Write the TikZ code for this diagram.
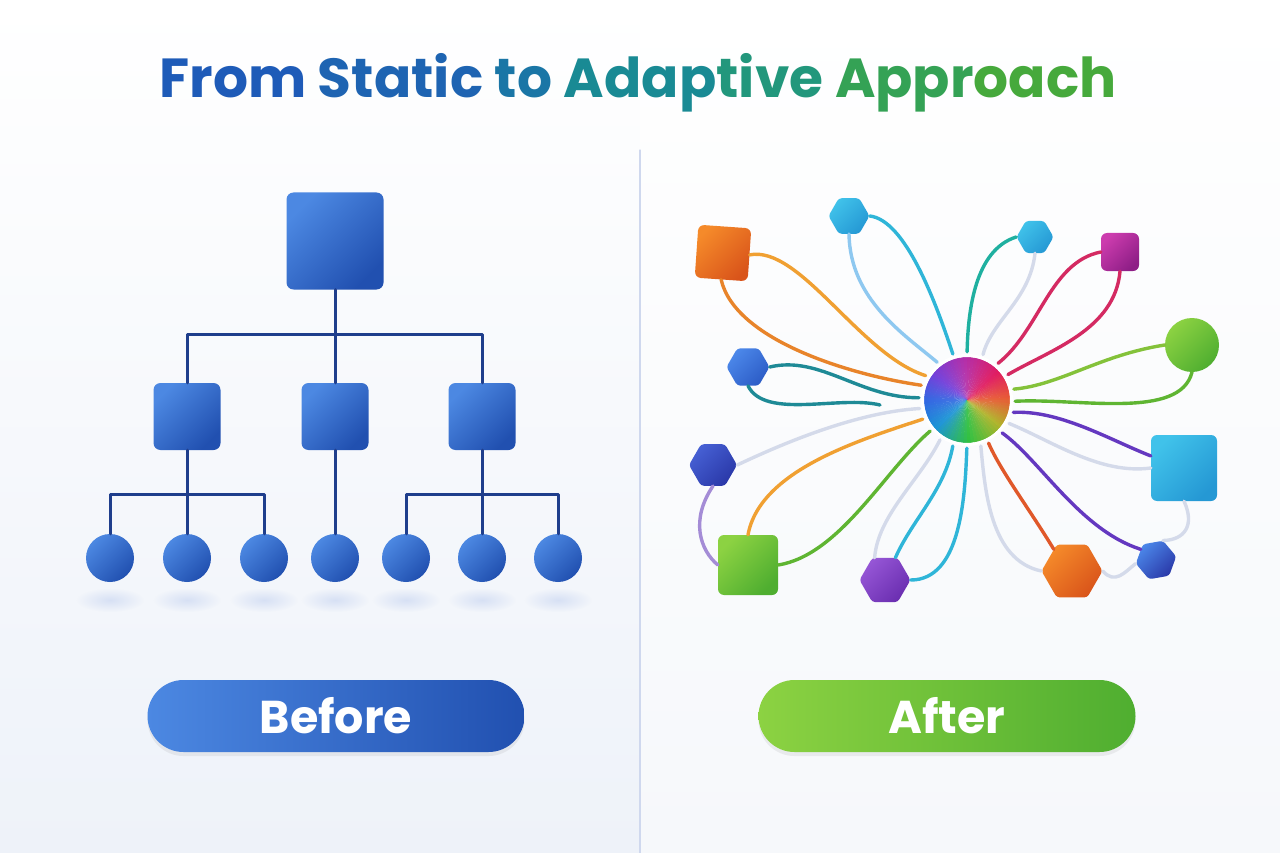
\documentclass[tikz,border=0pt]{standalone}
\usepackage{fontspec}
\setmainfont{Poppins}
\usetikzlibrary{shapes.geometric,fadings,shadows}
\definecolor{bgL}{HTML}{EEF2F9}
\definecolor{bgR}{HTML}{F6F8FB}
\definecolor{divc}{HTML}{CFD8EE}
\definecolor{treeline}{HTML}{1F3E8C}
\definecolor{boxtop}{HTML}{4C88E2}
\definecolor{boxbot}{HTML}{2150B0}
\definecolor{spotc}{HTML}{C4D2F0}
% title colours
\definecolor{tiA}{HTML}{1E5BB8}
\definecolor{tiB}{HTML}{1E64B2}
\definecolor{tiC}{HTML}{1A76A6}
\definecolor{tiD}{HTML}{198A94}
\definecolor{tiE}{HTML}{22977C}
\definecolor{tiF}{HTML}{34A255}
\definecolor{tiG}{HTML}{46A93C}
% node colours
\definecolor{orA}{HTML}{F58A2A}\definecolor{orB}{HTML}{D9541A}
\definecolor{cyA}{HTML}{40C2EA}\definecolor{cyB}{HTML}{2598D4}
\definecolor{mgA}{HTML}{CC3CAE}\definecolor{mgB}{HTML}{8E1E86}
\definecolor{grA}{HTML}{8CD242}\definecolor{grB}{HTML}{4FAE30}
\definecolor{blA}{HTML}{4C88EA}\definecolor{blB}{HTML}{2C5CC6}
\definecolor{dbA}{HTML}{4660D4}\definecolor{dbB}{HTML}{2A38A8}
\definecolor{puA}{HTML}{9656D6}\definecolor{puB}{HTML}{6A2EB0}
% hub colours
\definecolor{hR}{HTML}{E85A34}
\definecolor{hTR}{HTML}{E01C62}
\definecolor{hT}{HTML}{B42EA8}
\definecolor{hTL}{HTML}{7440DA}
\definecolor{hL}{HTML}{3168E2}
\definecolor{hBL}{HTML}{1C94D6}
\definecolor{hB}{HTML}{30C040}
\definecolor{hBR}{HTML}{B0B42A}
% ribbon colours
\definecolor{rbO}{HTML}{F0A032}\definecolor{rbOd}{HTML}{E8842A}
\definecolor{rbC}{HTML}{2FB5D8}\definecolor{rbLb}{HTML}{8EC8F0}
\definecolor{rbT}{HTML}{1FB0A0}\definecolor{rbG}{HTML}{D4DAEA}
\definecolor{rbR}{HTML}{D42A62}\definecolor{rbGr}{HTML}{84C23A}
\definecolor{rbGd}{HTML}{5FB532}\definecolor{rbTd}{HTML}{1E8A96}
\definecolor{rbP}{HTML}{6438C0}\definecolor{rbLv}{HTML}{A48CD6}
\definecolor{rbRo}{HTML}{E0582A}
\tikzfading[name=softspot, inner color=transparent!40, outer color=transparent!100]
\tikzfading[name=hubglow, inner color=transparent!88, outer color=transparent!100]
\begin{document}
\begin{tikzpicture}[x=1pt, y=-1pt, line join=round, line cap=round,
	tline/.style={draw=treeline, line width=3pt},
	box/.style={rounded corners=7pt, inner sep=0pt, minimum size=#1, top color=boxtop, bottom color=boxbot, shading angle=45},
	leaf/.style={circle, inner sep=0pt, minimum size=48pt, top color=boxtop, bottom color=boxbot, shading angle=45},
	sqn/.style n args={3}{rounded corners=6pt, inner sep=0pt, minimum size=#1, top color=#2, bottom color=#3, shading angle=45},
	hexn/.style n args={3}{regular polygon, regular polygon sides=6, rounded corners=3pt, inner sep=0pt, minimum size=#1, top color=#2, bottom color=#3, shading angle=45},
	ribbon/.style={line width=3.4pt},
	pill/.style={rounded corners=36pt, minimum width=377pt, minimum height=72pt, text=white, font=\fontsize{46}{50}\selectfont\bfseries,
		drop shadow={opacity=0.12, shadow xshift=0pt, shadow yshift=-4pt}}]
	\useasboundingbox (0,0) rectangle (1280,853);
	% background
	\shade[top color=white, bottom color=bgL] (0,0) rectangle (640,853);
	\shade[top color=white, bottom color=bgR] (640,0) rectangle (1280,853);
	\draw[divc, line width=1.2pt] (640,150) -- (640,853);
	% title
	\node[anchor=base, font=\fontsize{55}{62}\selectfont\bfseries] (title) at (638,98)
		{\textcolor{tiA}{From} \textcolor{tiB}{Static} \textcolor{tiC}{to} \textcolor{tiD}{Adap}\textcolor{tiE}{tive} \textcolor{tiF}{Appr}\textcolor{tiG}{oach}};
	% before: tree
	\foreach \x in {110,187,264,335,406,482,558}
		\fill[spotc, path fading=softspot] (\x,600) ellipse (34 and 12);
	\node[box=97pt] (root) at (335,241) {};
	\foreach \n/\x in {m1/187,m2/335,m3/482} \node[box=67pt] (\n) at (\x,416.5) {};
	\foreach \n/\x in {l1/110,l2/187,l3/264,l4/335,l5/406,l6/482,l7/558} \node[leaf] (\n) at (\x,558) {};
	\draw[tline] (root.south) -- ++(0,44.5) coordinate (j0);
	\draw[tline] (m1.north) |- (j0) -| (m3.north);
	\draw[tline] (j0) -- (m2.north);
	\draw[tline] (m1.south) -- ++(0,44) coordinate (j1);
	\draw[tline] (l1.north) |- (j1) -| (l3.north);
	\draw[tline] (j1) -- (l2.north);
	\draw[tline] (m2.south) -- (l4.north);
	\draw[tline] (m3.south) -- ++(0,44) coordinate (j3);
	\draw[tline] (l5.north) |- (j3) -| (l7.north);
	\draw[tline] (j3) -- (l6.north);
	% after: network
	\node[circle, inner sep=0pt, minimum size=86pt] (hub) at (967,400) {};
	\node[sqn={53pt}{orA}{orB}, rotate=-4] (osq) at (723,253) {};
	\node[hexn={41pt}{cyA}{cyB}] (hexA) at (849,216) {};
	\node[hexn={37pt}{cyA}{cyB}] (hexB) at (1035,237) {};
	\node[sqn={38pt}{mgA}{mgB}] (msq) at (1120,252) {};
	\node[circle, inner sep=0pt, minimum size=54pt, top color=grA, bottom color=grB, shading angle=45] (gc) at (1192,345) {};
	\node[hexn={43pt}{blA}{blB}] (hexC) at (748,367) {};
	\node[sqn={66pt}{cyA}{cyB}] (csq) at (1184,468) {};
	\node[hexn={48pt}{dbA}{dbB}] (hexD) at (713,465) {};
	\node[sqn={60pt}{grA}{grB}] (gsq) at (748,565) {};
	\node[hexn={51pt}{puA}{puB}] (hexE) at (885,580) {};
	\node[hexn={61pt}{orA}{orB}] (hexG) at (1072,571) {};
	\node[hexn={41pt}{blA}{dbB}, rotate=10] (hexF) at (1156,560) {};
	\coordinate (t3) at (880,405);
	\foreach \s/\c/\d/\t/\col in {
		osq.east/{(800,245)}/{(860,355)}/148/rbO,
		osq.south/{(735,340)}/{(850,375)}/161/rbOd,
		hexA.east/{(905,220)}/{(935,300)}/107/rbC,
		hexA.south/{(850,300)}/{(905,335)}/127/rbLb,
		hexB.west/{(975,250)}/{(968,310)}/90/rbT,
		hexB.south/{(1030,300)}/{(992,320)}/70/rbG,
		msq.west/{(1050,262)}/{(1040,330)}/51/rbR,
		msq.south/{(1115,330)}/{(1050,350)}/32/rbR,
		gc.west/{(1100,355)}/{(1060,385)}/14/rbGr,
		gc.south/{(1180,420)}/{(1080,398)}/358/rbGd,
		hexC.east/{(820,355)}/{(860,398)}/177/rbTd,
		csq.160/{(1110,440)}/{(1060,410)}/343/rbP,
		csq.west/{(1100,475)}/{(1050,440)}/330/rbG,
		hexD.east/{(790,440)}/{(860,412)}/191/rbG,
		gsq.north/{(760,470)}/{(860,440)}/204/rbO,
		gsq.east/{(840,555)}/{(885,470)}/220/rbGd,
		hexE.east/{(960,580)}/{(965,500)}/270/rbC,
		hexE.65/{(912,520)}/{(945,490)}/252/rbC,
		hexE.115/{(878,515)}/{(920,480)}/235/rbG,
		hexG.130/{(1030,510)}/{(1000,470)}/297/rbRo,
		hexG.west/{(990,560)}/{(985,490)}/288/rbG,
		hexF.135/{(1080,530)}/{(1040,460)}/316/rbP}
		\draw[ribbon, \col, shorten >=5pt] (\s) .. controls \c and \d .. (hub.\t);
	\draw[ribbon, rbTd] (hexC.south) .. controls (765,420) and (840,395) .. (t3);
	\draw[ribbon, rbG] (csq.south) .. controls (1195,525) and (1185,540) .. (hexF.60);
	\draw[ribbon, rbLv] (hexD.south) .. controls (690,520) and (700,550) .. (gsq.west);
	\draw[ribbon, rbG] (hexG.east) .. controls (1115,585) and (1125,572) .. (hexF.west);
	% hub colour wheel
	\begin{scope}[shift={(hub.center)}, yscale=-1]
		\foreach \a/\b/\ca/\cb in {0/40/hR/hTR, 40/90/hTR/hT, 90/140/hT/hTL, 140/180/hTL/hL,
			180/220/hL/hBL, 220/270/hBL/hB, 270/320/hB/hBR, 320/360/hBR/hR}
			\foreach \k in {0,...,9} {
				\pgfmathsetmacro\s{\a+(\b-\a)*\k/10}
				\pgfmathsetmacro\e{\a+(\b-\a)*(\k+1)/10+0.8}
				\pgfmathtruncatemacro\p{100-\k*10}
				\fill[\ca!\p!\cb] (0,0) -- (\s:43) arc[start angle=\s, end angle=\e, radius=43] -- cycle;
			}
		\fill[white, path fading=hubglow] (0,0) circle (43);
		\draw[white, line width=3pt] (0,0) circle (44.5);
	\end{scope}
	% labels
	\node[pill, left color=boxtop, right color=boxbot] (before) at (336,716) {Before};
	\node[pill, left color=grA, right color=grB] (after) at (947,716) {After};
\end{tikzpicture}
\end{document}
